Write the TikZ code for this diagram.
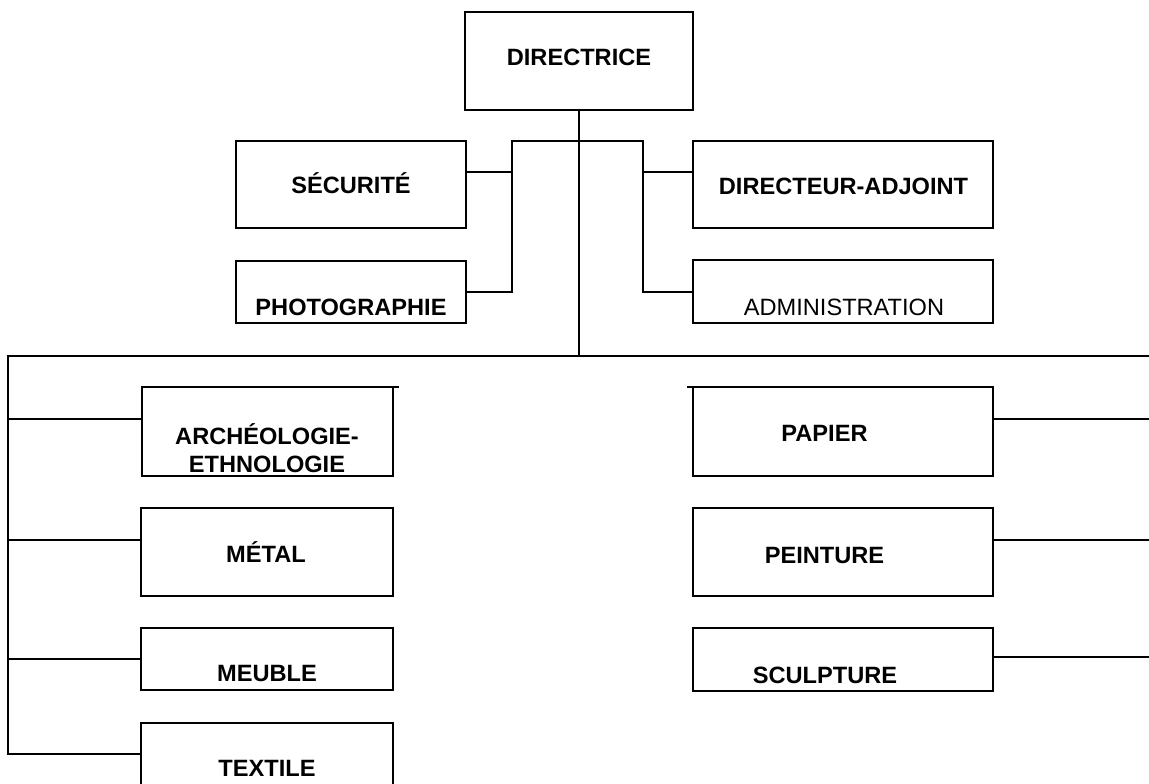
\documentclass[tikz,border=0pt]{standalone}
\usepackage{fontspec}
\setmainfont{Liberation Sans}
\begin{document}
\begin{tikzpicture}[x=1pt,y=-1pt,
  box/.style={draw, line width=2pt, rectangle, inner sep=0pt, outer sep=0pt, anchor=north west},
  lbl/.style={inner sep=0pt, outer sep=0pt, anchor=base, font=\fontsize{23.6}{27.5}\selectfont\bfseries},
  lblr/.style={inner sep=0pt, outer sep=0pt, anchor=base, font=\fontsize{23.6}{27.5}\selectfont},
  conn/.style={line width=2pt}]
\useasboundingbox (0,0) rectangle (1149,784);
\clip (0,0) rectangle (1149,784);
\fill[white] (0,0) rectangle (1149,784);

% boxes
\node[box, minimum width=228pt, minimum height=98pt] (dir) at (465,12) {};
\node[box, minimum width=230pt, minimum height=87pt] (sec) at (236,141) {};
\node[box, minimum width=230pt, minimum height=62pt] (pho) at (236,261) {};
\node[box, minimum width=300pt, minimum height=87pt] (adj) at (693,141) {};
\node[box, minimum width=300pt, minimum height=63pt] (adm) at (693,260) {};
\node[box, minimum width=251pt, minimum height=89pt] (arch) at (142,387) {};
\node[box, minimum width=252pt, minimum height=88pt] (met) at (141,508) {};
\node[box, minimum width=252pt, minimum height=62pt] (meu) at (141,628) {};
\node[box, minimum width=252pt, minimum height=64pt] (tex) at (141,723) {};
\node[box, minimum width=300pt, minimum height=89pt] (pap) at (693,387) {};
\node[box, minimum width=300pt, minimum height=88pt] (pei) at (693,508) {};
\node[box, minimum width=300pt, minimum height=63pt] (scu) at (693,628) {};

% texts
\node[lbl] (tdir) at (579,65.5) {DIRECTRICE};
\node[lbl] (tsec) at (351,193.5) {SÉCURITÉ};
\node[lbl] (tpho) at (351,315) {PHOTOGRAPHIE};
\node[lbl] (tadj) at (843.5,194) {DIRECTEUR-ADJOINT};
\node[lblr] (tadm) at (844,315.5) {ADMINISTRATION};
\node[lbl] (tarcha) at (267,444.5) {ARCHÉOLOGIE-};
\node[lbl] (tarchb) at (267,472) {ETHNOLOGIE};
\node[lbl] (tmet) at (266,562) {MÉTAL};
\node[lbl] (tmeu) at (267,681) {MEUBLE};
\node[lbl] (ttex) at (267,776) {TEXTILE};
\node[lbl] (tpap) at (824.5,441) {PAPIER};
\node[lbl] (tpei) at (824.5,563.5) {PEINTURE};
\node[lbl] (tscu) at (825,683) {SCULPTURE};

% bus coordinates
\coordinate (hub) at (579,356);
\coordinate (hl) at (8,356);
\coordinate (hr) at (1149,356);
\coordinate (bl) at (512,141);
\coordinate (br) at (643,141);

% connectors
\draw[conn] (dir.south) -- (hub);
\draw[conn] ([yshift=12.5pt]sec.east) -| (bl) -- (br) |- ([yshift=12.5pt]adj.west);
\draw[conn] (pho.east) -| (bl);
\draw[conn] ([yshift=-0.5pt]adm.west) -| (br);

\draw[conn] (hr) -- (hl) |- ([yshift=1pt]tex.west);
\draw[conn] ([yshift=12.5pt]arch.west) coordinate (a1) -- (a1 -| hl);
\draw[conn] ([yshift=12pt]met.west) coordinate (a2) -- (a2 -| hl);
\draw[conn] (meu.west) coordinate (a3) -- (a3 -| hl);

\draw[conn] ([yshift=12.5pt]pap.east) coordinate (b1) -- (b1 -| hr);
\draw[conn] ([yshift=12pt]pei.east) coordinate (b2) -- (b2 -| hr);
\draw[conn] ([yshift=2.5pt]scu.east) coordinate (b3) -- (b3 -| hr);

% small overhangs of top edges
\draw[conn] (arch.north east) -- ++(6,0) coordinate (ae);
\draw[conn] (pap.north west) -- ++(-6,0) coordinate (pw);
\end{tikzpicture}
\end{document}
